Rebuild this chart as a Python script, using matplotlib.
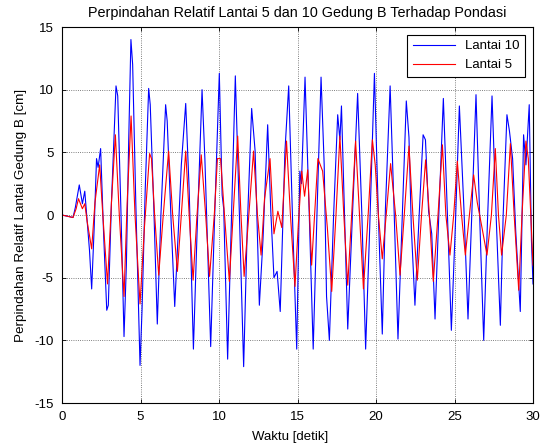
import matplotlib
matplotlib.use("Agg")
import matplotlib.pyplot as plt

plt.rcParams['font.family'] = ['Liberation Sans', 'DejaVu Sans']
plt.rcParams['axes.unicode_minus'] = False

# Lantai 10 (blue) – time [s] and displacement [cm]
t_lantai10 = [0, 0.7, 0.85, 1.1, 1.3, 1.45, 1.6, 1.75, 1.89, 2.05, 2.2, 2.3, 2.46, 2.65, 2.85, 2.95,
              3.15, 3.44, 3.55, 3.75, 3.95, 4.1, 4.25, 4.39, 4.5, 4.7, 4.97, 5.1, 5.3, 5.52, 5.62, 5.85,
              6.07, 6.3, 6.6, 6.7, 6.95, 7.18, 7.4, 7.6, 7.88, 8.1, 8.37, 8.6, 8.92, 9.1, 9.47, 9.7,
              10.02, 10.2, 10.3, 10.55, 10.8, 11.04, 11.3, 11.57, 11.8, 12.08, 12.3, 12.57, 12.8, 13.1,
              13.3, 13.5, 13.7, 13.9, 14.2, 14.44, 14.7, 14.95, 15.15, 15.25, 15.48, 15.75, 16.0, 16.25,
              16.5, 16.7, 16.85, 17.03, 17.3, 17.56, 17.7, 17.8, 18.2, 18.5, 18.83, 19.1, 19.34, 19.6,
              19.9, 20.15, 20.4, 20.6, 20.9, 21.15, 21.4, 21.65, 21.93, 22.1, 22.25, 22.48, 22.75, 23.0,
              23.15, 23.35, 23.55, 23.76, 24.0, 24.29, 24.55, 24.8, 25.05, 25.31, 25.6, 25.86, 26.1,
              26.37, 26.6, 26.86, 27.1, 27.39, 27.65, 27.92, 28.1, 28.34, 28.5, 28.7, 28.9, 29.19, 29.4,
              29.55, 29.76, 29.9, 30.0]
d_lantai10 = [0, -0.2, 0.6, 2.4, 0.9, 1.9, -0.4, -2.8, -5.9, -1.0, 4.5, 3.8, 5.3, -1.5, -7.6, -7.2,
              1.0, 10.3, 9.5, 0.5, -9.7, -4.0, 6.0, 14.0, 12.0, 1.0, -12.0, -7.5, 2.0, 10.1, 8.8, 0.5,
              -8.7, 0.0, 8.8, 7.5, -0.5, -7.3, -1.5, 4.0, 8.9, 2.0, -10.7, -1.5, 10.0, 4.5, -10.5, -1.0,
              11.3, 1.6, 0.5, -11.5, 0.0, 11.1, 0.0, -12.1, -1.0, 8.5, 5.1, -7.2, -2.0, 7.2,
              0.3, -5.0, -4.5, -7.7, 5.1, 10.3, -1.0, -10.7, 3.5, 2.5, 11.0, 0.0, -10.7, 0.5,
              11.0, 4.0, -6.5, -10.0, 0.0, 8.0, 6.0, 8.7, -9.1, 0.0, 9.7, 0.0, -10.7, -1.0,
              11.3, 0.0, -9.5, 0.5, 10.3, 0.5, -9.9, -1.0, 9.1, 6.2, -1.0, -7.2, 0.0, 6.4,
              6.0, 0.3, -1.5, -8.3, 0.0, 9.3, 0.0, -9.2, -1.0, 8.7, 0.5, -8.3, 0.0,
              9.6, 0.0, -10.0, -0.5, 9.5, 0.0, -8.8, 0.0, 8.0, 6.7, 4.5, -1.3, -7.7, 6.4,
              4.0, 8.8, -2.0, -5.5]

# Lantai 5 (red)
t_lantai5 = [0, 0.7, 0.9, 1.05, 1.3, 1.45, 1.6, 1.89, 2.1, 2.4, 2.6, 2.9, 3.15, 3.4, 3.65, 3.95,
             4.15, 4.4, 4.65, 4.97, 5.25, 5.58, 5.7, 5.9, 6.16, 6.45, 6.79, 7.05, 7.35, 7.6, 7.88,
             8.1, 8.35, 8.6, 8.87, 9.15, 9.4, 9.7, 9.9, 10.1, 10.35, 10.66, 10.9, 11.19, 11.4, 11.6,
             11.9, 12.2, 12.45, 12.68, 12.9, 13.25, 13.5, 13.75, 14.0, 14.3, 14.55, 14.84, 15.05,
             15.27, 15.45, 15.65, 15.9, 16.3, 16.6, 16.9, 17.18, 17.45, 17.7, 17.95, 18.2, 18.45,
             18.7, 18.95, 19.2, 19.5, 19.77, 19.95, 20.15, 20.4, 20.65, 20.93, 21.25, 21.53, 21.8,
             22.1, 22.35, 22.63, 22.9, 23.16, 23.4, 23.65, 23.95, 24.23, 24.45, 24.71, 24.95, 25.18,
             25.45, 25.69, 25.95, 26.22, 26.45, 26.75, 27.07, 27.35, 27.6, 27.8, 28.0, 28.3, 28.56,
             28.8, 29.09, 29.3, 29.55, 29.7, 30.0]
d_lantai5 = [0, -0.2, 0.5, 1.3, 0.5, 0.9, -0.5, -2.7, 1.0, 4.0, 0.0, -5.5, 1.0, 6.4, 0.0, -6.5,
             1.0, 7.9, 0.0, -7.1, -1.0, 4.9, 4.5, 0.0, -4.8, 0.0, 5.1, 0.0, -4.5, 0.0, 5.1,
             0.0, -5.2, 0.0, 4.8, 0.0, -4.9, 0.0, 4.5, 4.5, 0.0, -5.3, 0.0, 6.3, 0.0, -4.9,
             0.0, 5.1, 0.0, -3.2, 1.3, 4.5, -1.5, 0.3, -1.0, 5.9, 0.0, -5.7, -0.8,
             3.5, 1.5, 3.6, -4.0, 4.5, 3.5, -1.0, -6.1, 0.0, 6.3, 0.0, -5.6, 0.0,
             5.9, 0.0, -5.9, 0.0, 6.0, 4.0, 0.0, -3.5, 0.0, 4.1, 0.0, -4.8, 0.0,
             5.5, 0.0, -5.2, 0.0, 4.4, 0.0, -5.3, 0.0, 5.6, 0.0, -3.2, 0.0, 4.3,
             0.0, -3.2, 0.0, 3.2, 1.0, -1.0, -3.2, 0.0, 5.3, 0.0, -3.2, 0.0, 5.7,
             0.0, -6.0, 0.0, 5.9, 4.5, -4.0]

x_ticks = [0, 5, 10, 15, 20, 25, 30]
y_ticks = [-15, -10, -5, 0, 5, 10, 15]

fig = plt.figure(figsize=(5.48, 4.46), dpi=100)
ax = fig.add_axes([62/548, 1-403/446, (533-62)/548, (403-27)/446])

ax.plot(t_lantai10, d_lantai10, color='#0000ff', lw=0.8, label='Lantai 10')
ax.plot(t_lantai5, d_lantai5, color='#ff0000', lw=0.8, label='Lantai 5')

ax.set_xlim(0, 30)
ax.set_ylim(-15, 15)
ax.set_xticks(x_ticks)
ax.set_yticks(y_ticks)
ax.tick_params(direction='in', top=True, right=True, labelsize=9.5, length=3, width=0.6, pad=6)
ax.grid(True, linestyle=':', color='#555555', lw=0.6)
for s in ax.spines.values():
    s.set_linewidth(0.8)

ax.set_title('Perpindahan Relatif Lantai 5 dan 10 Gedung B Terhadap Pondasi', fontsize=10.4, pad=7)
ax.set_xlabel('Waktu [detik]', fontsize=9.5)
ax.xaxis.set_label_coords(0.485, -0.075)
ax.set_ylabel('Perpindahan Relatif Lantai Gedung B [cm]', fontsize=9.7, labelpad=5)

leg = ax.legend(loc='upper right', fontsize=9.5, fancybox=False, framealpha=1,
                edgecolor='black', borderaxespad=0.6, handlelength=3.2)
leg.get_frame().set_linewidth(0.8)

fig.savefig('out.png', dpi=100)
